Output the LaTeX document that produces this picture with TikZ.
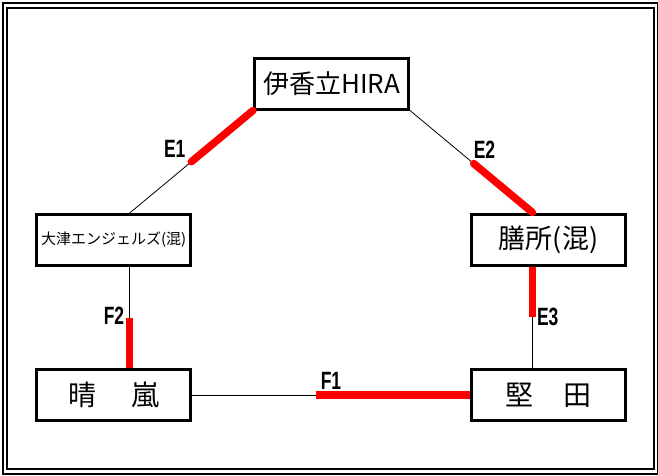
\documentclass[tikz,border=0pt]{standalone}
\usepackage{fontspec}
\newfontfamily\jpfont{Noto Sans CJK JP}
\newfontfamily\lblfont[FakeStretch=0.7]{Liberation Sans Bold}
\usetikzlibrary{calc}

\begin{document}
\begin{tikzpicture}[x=1pt,y=-1pt]
\tikzset{team/.style={draw, line width=3pt, fill=white, minimum width=154pt, minimum height=51pt, inner sep=0pt},
  game/.style={line width=0.8pt},
  win/.style={red, line width=7.5pt},
  lbl/.style={font=\lblfont\fontsize{25}{25}\selectfont, inner sep=0pt}}
\useasboundingbox (0,0) rectangle (658,475);
% double frame
\draw[line width=2.5pt] (3,3) rectangle (658.5,474);
\draw[line width=2.5pt] (7.2,7.8) rectangle (653.8,469.2);
% teams
\node[team, font=\jpfont\fontsize{26}{26}\selectfont] (hira) at (331.5,83.5) {伊香立HIRA};
\node[team, font=\jpfont\fontsize{15}{15}\selectfont] (otsu) at (113.7,240) {大津エンジェルズ(混)};
\node[team, font=\jpfont\fontsize{27}{27}\selectfont] (zeze) at (548.5,239.5) {膳所(混)};
\node[team, font=\jpfont\fontsize{28}{28}\selectfont] (seiran) at (113.7,395) {晴\hspace{1.25em}嵐};
\node[team, font=\jpfont\fontsize{28}{28}\selectfont] (katata) at (548.5,395) {堅\hspace{1.1em}田};
% line ends off centre
\coordinate (otsu top) at ([xshift=16pt]otsu.north);
\coordinate (otsu bot) at ([xshift=16pt]otsu.south);
\coordinate (seiran top) at ([xshift=16pt]seiran.north);
\coordinate (zeze top) at ([xshift=-16pt]zeze.north);
\coordinate (zeze bot) at ([xshift=-16pt]zeze.south);
\coordinate (katata top) at ([xshift=-16pt]katata.north);
% games
\draw[game] (hira.south west) -- (otsu top) coordinate[pos=0.5] (e1 end);
\draw[game] (hira.south east) -- (zeze top) coordinate[pos=0.52] (e2 end);
\draw[game] (otsu bot) -- (seiran top) coordinate[pos=0.5] (f2 end);
\draw[game] (zeze bot) -- (katata top) coordinate[pos=0.5] (e3 end);
\draw[game] (seiran.east) -- (katata.west) coordinate[pos=0.446] (f1 end);
%     winners in red
\draw[win, line cap=round] (hira.south west) -- (e1 end);
\draw[win, line cap=round] (e2 end) -- (zeze top);
\draw[win] (f2 end) -- (seiran top);
\draw[win] (zeze bot) -- (e3 end);
\draw[win] (f1 end) -- (katata.west);
% labels
\node[lbl] (e1) at (174.7,148.5) {E1};
\node[lbl] (e2) at (484.5,150) {E2};
\node[lbl] (f2) at (114,316) {F2};
\node[lbl] (e3) at (547.7,317) {E3};
\node[lbl] (f1) at (331,381) {F1};
\end{tikzpicture}
\end{document}
